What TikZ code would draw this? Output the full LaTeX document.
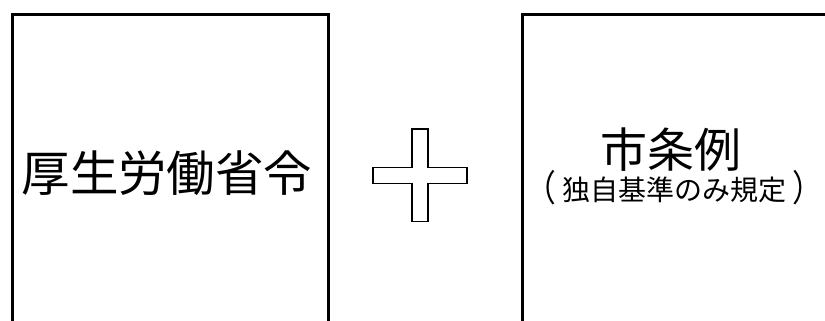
\documentclass[tikz,border=0pt]{standalone}
\usepackage{fontspec}
\usepackage{graphicx}
\newfontfamily\cjk{Noto Sans CJK JP}
\newcommand{\tallparen}[1]{\raisebox{-1.5pt}{\scalebox{1.1}[1.3]{#1}}}
\begin{document}
\begin{tikzpicture}[x=1pt,y=-1pt,
  box/.style={draw=black, line width=3pt, inner sep=0pt, anchor=north west},
  bigtext/.style={font=\cjk\fontsize{48.5}{48.5}\selectfont, inner sep=0pt},
  midtext/.style={font=\cjk\fontsize{47}{47}\selectfont, inner sep=0pt},
  smalltext/.style={font=\cjk\fontsize{28}{28}\selectfont, inner sep=0pt},
  plusshape/.style={draw=black, line width=1.3pt, fill=white, line join=miter}]
\useasboundingbox (0,0) rectangle (825,321);
\clip (0,0) rectangle (825,321);
\fill[white] (0,0) rectangle (825,321);
% boxes (extend below the picture's lower edge)
\node[box, minimum width=316pt, minimum height=340pt] (left) at (10.5,13.5) {};
\node[box, minimum width=330pt, minimum height=340pt] (right) at (520.5,13.5) {};
% texts
\node[bigtext] (lawtext) at (167,173) {厚生労働省令};
\node[midtext] (citytext) at (671,150) {市条例};
\node[smalltext] (citynote) at (674.5,188) {\tallparen{（}\hspace{6pt}独自基準のみ規定\hspace{6pt}\tallparen{）}};
% plus sign
\draw[plusshape] (412,129) -- (428,129) -- (428,167.5) -- (467,167.5) -- (467,183.5)
  -- (428,183.5) -- (428,221.5) -- (412,221.5) -- (412,183.5) -- (373,183.5)
  -- (373,167.5) -- (412,167.5) -- cycle;
\end{tikzpicture}
\end{document}
